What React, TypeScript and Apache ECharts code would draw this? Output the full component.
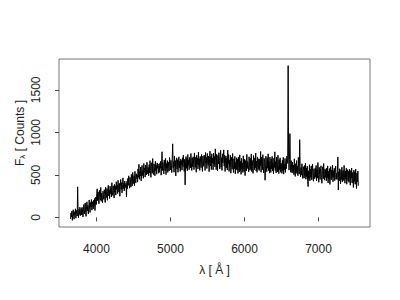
import React, { useEffect, useRef } from "react";
import * as echarts from "echarts";

// Spectrum sampling grid (Å)
const lambdaStart = 3650;
const lambdaStep = 6;

// Flux values [Counts], one row per 150 Å
const flux: number[] = [
  -18, 52, 5, 74, -35, 38, 90, 12, -22, 66, 27, 101, -9, 48, 83, 15, 359, 71, -4, 95, 36, 120, 20, 62, 105,
  28, 119, 64, 5, 97, 152, 40, 88, 170, 55, 12, 131, 183, 78, 140, 41, 109, 205, 92, 58, 176, 122, 210, 85, 148,
  186, 98, 201, 130, 222, 80, 171, 240, 152, 281, 336, 196, 299, 232, 160, 318, 247, 205, 352, 189, 284, 236, 171, 309, 255,
  212, 326, 268, 175, 355, 281, 233, 339, 201, 305, 378, 252, 321, 222, 367, 280, 344, 240, 408, 297, 259, 372, 318, 228, 389,
  296, 371, 262, 419, 327, 380, 281, 437, 342, 297, 401, 248, 365, 446, 330, 409, 288, 386, 465, 339, 402, 311, 428, 368, 352,
  401, 240, 425, 338, 458, 377, 489, 395, 343, 470, 416, 356, 505, 428, 371, 529, 440, 398, 491, 373, 542, 451, 404, 513, 458,
  497, 415, 570, 472, 625, 448, 541, 489, 592, 430, 522, 611, 493, 551, 460, 634, 528, 580, 474, 617, 546, 499, 649, 560, 511,
  588, 490, 621, 523, 667, 552, 471, 603, 644, 518, 692, 570, 502, 629, 584, 489, 660, 551, 612, 508, 641, 577, 627, 520, 606,
  530, 635, 578, 660, 497, 612, 772, 551, 648, 590, 512, 676, 601, 548, 694, 503, 633, 581, 668, 529, 652, 596, 545, 705, 610,
  560, 671, 612, 527, 699, 865, 584, 655, 531, 722, 603, 668, 488, 640, 701, 569, 680, 530, 648, 712, 582, 663, 541, 687, 615,
  669, 556, 701, 598, 731, 625, 540, 683, 382, 641, 715, 577, 692, 548, 740, 611, 676, 561, 706, 630, 583, 751, 648, 552, 697,
  596, 713, 640, 562, 758, 655, 589, 707, 531, 732, 626, 699, 570, 768, 611, 690, 553, 718, 650, 585, 741, 632, 540, 722, 664,
  601, 734, 666, 552, 763, 640, 705, 575, 752, 650, 612, 721, 538, 688, 779, 604, 714, 563, 748, 641, 697, 559, 757, 629, 716,
  595, 806, 668, 561, 742, 679, 548, 727, 630, 761, 672, 569, 716, 788, 590, 701, 553, 748, 641, 712, 794, 602, 733, 540, 688,
  722, 583, 700, 557, 791, 627, 739, 541, 676, 600, 730, 520, 655, 709, 566, 752, 611, 528, 690, 573, 718, 512, 649, 565, 702,
  556, 684, 518, 708, 602, 534, 735, 549, 661, 506, 694, 571, 640, 529, 724, 592, 540, 687, 491, 668, 607, 548, 741, 575, 656,
  612, 535, 713, 629, 553, 694, 566, 746, 539, 670, 598, 518, 727, 641, 560, 701, 583, 757, 547, 662, 530, 711, 620, 566, 690,
  552, 683, 604, 775, 531, 710, 627, 560, 738, 599, 522, 694, 645, 437, 557, 720, 611, 538, 701, 580, 748, 551, 660, 520, 709,
  620, 528, 688, 571, 718, 545, 642, 512, 697, 586, 771, 552, 655, 523, 709, 590, 536, 731, 607, 514, 680, 560, 701, 531, 638,
  603, 517, 672, 548, 706, 509, 625, 560, 693, 530, 648, 574, 720, 633, 690, 1785, 711, 556, 681, 985, 617, 531, 668, 560, 522,
  650, 541, 615, 503, 689, 556, 482, 632, 530, 668, 515, 602, 490, 706, 563, 509, 914, 598, 478, 584, 497, 631, 521, 458, 597,
  570, 462, 611, 487, 639, 449, 580, 476, 603, 421, 362, 548, 455, 620, 430, 567, 472, 606, 441, 545, 628, 462, 425, 571, 498,
  455, 582, 476, 611, 428, 560, 462, 645, 491, 413, 589, 503, 447, 575, 607, 468, 401, 552, 596, 455, 633, 497, 438, 571, 470,
  556, 430, 581, 462, 606, 405, 541, 452, 574, 388, 523, 598, 441, 557, 470, 615, 419, 549, 476, 578, 432, 536, 603, 451, 518,
  445, 551, 711, 322, 536, 429, 572, 468, 395, 560, 447, 590, 416, 531, 552, 434, 611, 470, 402, 546, 451, 578, 390, 527, 561,
  430, 541, 412, 566, 455, 378, 552, 461, 580, 405, 527, 440, 352, 556, 423, 535, 390, 569, 447, 340, 521, 418, 545, 372,
];

const xTicks = [4000, 5000, 6000, 7000];
const yTicks = [0, 500, 1000, 1500];
const xRange = [3494, 7696];
const yRange = [-113, 1863];

const FONT = "'Liberation Sans', Arial, Helvetica, sans-serif";

export default function App() {
  const ref = useRef<HTMLDivElement>(null);
  useEffect(() => {
    if (!ref.current) return;
    const chart = echarts.init(ref.current, undefined, { renderer: "svg" });
    const data = flux.map((v, i) => [lambdaStart + i * lambdaStep, v]);
    chart.setOption({
      animation: false,
      backgroundColor: "#fff",
      grid: {
        left: 59,
        right: 30,
        top: 59,
        bottom: 73,
        show: true,
        borderColor: "#777",
        borderWidth: 1,
        backgroundColor: "transparent",
      },
      xAxis: {
        type: "value",
        min: xRange[0],
        max: xRange[1],
        name: "λ [ Å ]",
        nameLocation: "middle",
        nameGap: 37,
        nameTextStyle: { fontFamily: FONT, fontSize: 12, color: "#222" },
        axisLine: { show: false },
        splitLine: { show: false },
        axisTick: {
          show: true,
          length: 4,
          customValues: xTicks,
          lineStyle: { color: "#444" },
        },
        axisLabel: {
          customValues: xTicks,
          margin: 16,
          fontFamily: FONT,
          fontSize: 12,
          color: "#222",
          formatter: (v: number) => String(v),
        },
      },
      yAxis: {
        type: "value",
        min: yRange[0],
        max: yRange[1],
        axisLine: { show: false },
        splitLine: { show: false },
        axisTick: {
          show: true,
          length: 4,
          customValues: yTicks,
          lineStyle: { color: "#444" },
        },
        axisLabel: {
          customValues: yTicks,
          rotate: 90,
          margin: 17,
          fontFamily: FONT,
          fontSize: 12,
          color: "#222",
          formatter: (v: number) => String(v),
        },
      },
      graphic: [
        {
          type: "text",
          x: 20,
          y: 133,
          rotation: Math.PI / 2,
          style: {
            text: "{a|F}{b|λ}{a| [ Counts ]}",
            align: "center",
            verticalAlign: "middle",
            fill: "#222",
            rich: {
              a: { fontFamily: FONT, fontSize: 12, fill: "#222" },
              b: { fontFamily: FONT, fontSize: 8, fill: "#222", verticalAlign: "bottom" },
            },
          },
        },
      ],
      series: [
        {
          type: "line",
          data,
          showSymbol: false,
          symbol: "none",
          silent: true,
          lineStyle: { color: "#000", width: 1 },
        },
      ],
    });
    return () => chart.dispose();
  }, []);
  return (
    <div
      ref={ref}
      style={{ position: "fixed", left: 0, top: 0, width: 400, height: 300 }}
    />
  );
}
